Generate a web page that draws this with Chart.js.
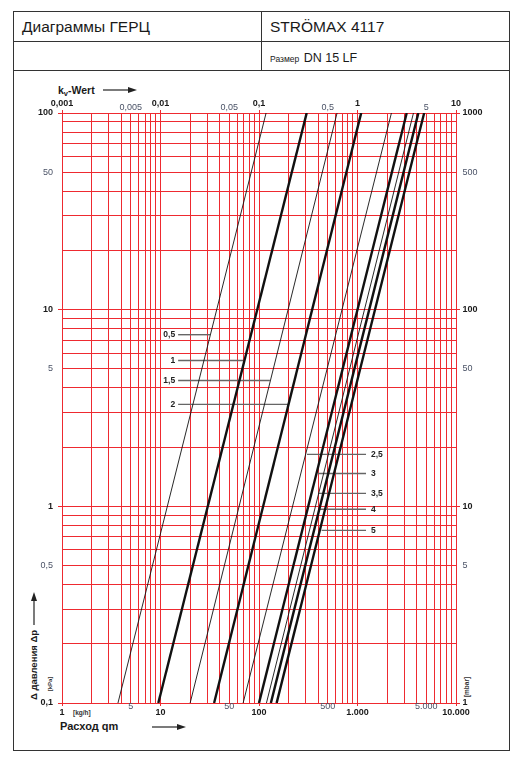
<!DOCTYPE html>
<html><head><meta charset="utf-8">
<script src="https://cdn.jsdelivr.net/npm/chart.js@4.4.1/dist/chart.umd.min.js"></script>
<style>
html,body{margin:0;padding:0;background:#fff;}
body{width:525px;height:761px;position:relative;overflow:hidden;font-family:'Liberation Sans',Arial,sans-serif;color:#1a1a1a;}
.abs{position:absolute;white-space:nowrap;}
.frame{position:absolute;left:13px;top:11px;width:497px;height:740px;border:1.5px solid #333;box-sizing:border-box;}
.hl{position:absolute;left:13px;width:497px;height:0;border-top:1.5px solid #333;}
.vl{position:absolute;top:11px;height:60px;width:0;border-left:1.5px solid #333;}
.rot{position:absolute;white-space:nowrap;transform:translate(-50%,-50%) rotate(-90deg);}
#c{position:absolute;left:0;top:0;}
</style></head>
<body>
<div class="frame"></div>
<div class="hl" style="top:41px"></div>
<div class="hl" style="top:70px"></div>
<div class="vl" style="left:261px"></div>
<div class="abs" style="left:22px;top:18px;font-size:15.5px;line-height:18px;">Диаграммы ГЕРЦ</div>
<div class="abs" style="left:270px;top:18px;font-size:15.5px;line-height:18px;">STRÖMAX 4117</div>
<div class="abs" style="left:270px;top:49px;line-height:16px;"><span style="font-size:8.5px;">Размер</span> <span style="font-size:12.5px;">DN 15 LF</span></div>
<div class="abs" style="left:58px;top:83px;font-size:10.5px;line-height:14px;font-weight:bold;">k<span style="font-size:7.5px;position:relative;top:2px;">v</span>-Wert</div>
<div class="abs" style="left:60px;top:719px;font-size:11px;line-height:14px;font-weight:bold;">Расход qm</div>
<div class="abs" style="left:73px;top:709px;font-size:6.5px;line-height:8px;font-weight:bold;color:#333;">[kg/h]</div>
<div class="rot" style="left:34px;top:665px;font-size:9.5px;line-height:12px;font-weight:bold;">Δ давления Δp</div>
<div class="rot" style="left:50px;top:684px;font-size:6px;line-height:8px;font-weight:bold;color:#333;">[kPa]</div>
<div class="rot" style="left:467px;top:687px;font-size:6.5px;line-height:8px;font-weight:bold;color:#333;">[mbar]</div>
<svg class="abs" style="left:0;top:0" width="525" height="761">
  <g stroke="#222" stroke-width="1.2" fill="#222">
    <line x1="103" y1="90" x2="130" y2="90"/><polygon points="137,90 128,87 128,93" stroke="none"/>
    <line x1="152" y1="727" x2="179" y2="727"/><polygon points="186,727 177,724 177,730" stroke="none"/>
    <line x1="34" y1="625" x2="34" y2="599"/><polygon points="34,592 31,601 37,601" stroke="none"/>
  </g>
</svg>
<canvas id="c" width="525" height="761"></canvas>
<script>
// ---- data ----
// presetting lines (Δp ∝ qm²): flow at Δp = 0.1 kPa and at Δp = 100 kPa
const presetLabels = ['0,5', '1', '1,5', '2', '2,5', '3', '3,5', '4', '5'];
const flowAtLowDp  = [3.7, 9.5, 20, 35, 69, 100, 119, 132, 151];      // kg/h at 0.1 kPa
const flowAtHighDp = [118, 305, 620, 1090, 2210, 3160, 3700, 4150, 4750]; // kg/h at 100 kPa
const heavyPresets = ['1', '2', '3', '4', '5'];

// label leader lines (Δp level and flow range)
const leaderDp       = [7.46, 5.51, 4.36, 3.30, 1.837, 1.47, 1.164, 0.966, 0.755];
const leaderFlowFrom = [15.1, 15.1, 15.1, 15.1, 307, 397, 397, 414, 432];
const leaderFlowTo   = [31.8, 68.8, 129, 200, 1220, 1220, 1220, 1220, 1220];
const labelOnLeft    = [true, true, true, true, false, false, false, false, false];

// axes
const flowMin = 1, flowMax = 10000;
const dpMin = 0.1, dpMax = 100;
const mbarMin = 1, mbarMax = 1000;
const kvMin = 0.001, kvMax = 10;
const gridMantissas = [1, 2, 3, 4, 5, 6, 7, 8, 9];

const flowTickValues = [1, 5, 10, 50, 100, 500, 1000, 5000, 10000];
const flowTickLabels = ['1', '5', '10', '50', '100', '500', '1.000', '5.000', '10.000'];
const dpTickValues = [0.1, 0.5, 1, 5, 10, 50, 100];
const dpTickLabels = ['0,1', '0,5', '1', '5', '10', '50', '100'];
const mbarTickValues = [1, 5, 10, 50, 100, 500, 1000];
const mbarTickLabels = ['1', '5', '10', '50', '100', '500', '1000'];
const kvTickValues = [0.001, 0.005, 0.01, 0.05, 0.1, 0.5, 1, 5, 10];
const kvTickLabels = ['0,001', '0,005', '0,01', '0,05', '0,1', '0,5', '1', '5', '10'];

// ---- helpers ----
function gridValues(min, max) {
  const out = [];
  for (let e = Math.round(Math.log10(min)); e < Math.round(Math.log10(max)); e++) {
    gridMantissas.forEach(m => out.push(+(m * Math.pow(10, e)).toPrecision(6)));
  }
  out.push(max);
  return out;
}
function same(a, b) { return Math.abs(Math.log10(a) - Math.log10(b)) < 1e-6; }
function labelFor(v, vals, labs) { const i = vals.findIndex(x => same(x, v)); return i < 0 ? '' : labs[i]; }
function isDecade(v) { const l = Math.log10(v); return Math.abs(l - Math.round(l)) < 1e-6; }

const RED = '#ee2a30';
const DARK = '#1a1a1a', MID = '#4a5266';
const FS = 9;

function tickFontBottom(ctx) {
  const v = ctx.tick && ctx.tick.value;
  return isDecade(v) ? {family: 'Liberation Sans', size: FS, weight: 'bold', lineHeight: 1.4}
                     : {family: 'Liberation Sans', size: FS, weight: 'normal', lineHeight: 0.15};
}
function tickFontTop(ctx) {
  const v = ctx.tick && ctx.tick.value;
  return isDecade(v) ? {family: 'Liberation Sans', size: FS, weight: 'bold', lineHeight: 1.55}
                     : {family: 'Liberation Sans', size: FS, weight: 'normal', lineHeight: 0.45};
}
function tickFontSide(ctx) {
  const v = ctx.tick && ctx.tick.value;
  return {family: 'Liberation Sans', size: FS, weight: isDecade(v) ? 'bold' : 'normal'};
}
function tickColor(ctx) { return isDecade(ctx.tick.value) ? DARK : MID; }
function markColor(ctx) { return ctx.tick && isDecade(ctx.tick.value) ? RED : 'rgba(0,0,0,0)'; }

// ---- datasets ----
const datasets = [];
presetLabels.forEach((p, i) => {
  const heavy = heavyPresets.includes(p);
  datasets.push({
    label: 'Voreinstellung ' + p,
    data: [{x: flowAtLowDp[i], y: dpMin}, {x: flowAtHighDp[i], y: dpMax}],
    showLine: true, pointRadius: 0, borderColor: '#111', borderWidth: heavy ? 2.4 : 0.9, order: 1
  });
  datasets.push({
    label: 'leader ' + p,
    data: [{x: leaderFlowFrom[i], y: leaderDp[i]}, {x: leaderFlowTo[i], y: leaderDp[i]}],
    showLine: true, pointRadius: 0, borderColor: '#666', borderWidth: 1.4, order: 2
  });
});

const presetLabelPlugin = {
  id: 'presetLabels',
  afterDatasetsDraw(chart) {
    const c = chart.ctx, xs = chart.scales.x, ys = chart.scales.y;
    c.save();
    c.font = 'bold 8.5px "Liberation Sans"';
    c.fillStyle = '#222';
    c.textBaseline = 'middle';
    presetLabels.forEach((p, i) => {
      const py = ys.getPixelForValue(leaderDp[i]);
      if (labelOnLeft[i]) {
        c.textAlign = 'right';
        c.fillText(p, xs.getPixelForValue(leaderFlowFrom[i]) - 3, py);
      } else {
        c.textAlign = 'left';
        c.fillText(p, xs.getPixelForValue(leaderFlowTo[i]) + 5, py);
      }
    });
    c.restore();
  }
};

new Chart(document.getElementById('c'), {
  type: 'scatter',
  data: {datasets},
  options: {
    responsive: false, animation: false, devicePixelRatio: 1,
    layout: {padding: 0},
    plugins: {legend: {display: false}, tooltip: {enabled: false}},
    scales: {
      x: {
        type: 'logarithmic', position: 'bottom', min: flowMin, max: flowMax,
        afterBuildTicks: s => { s.ticks = gridValues(flowMin, flowMax).map(v => ({value: v})); },
        afterFit: s => { s.height = 58; },
        grid: {color: RED, lineWidth: 1, drawTicks: true, tickLength: 3, tickColor: markColor},
        border: {color: RED, width: 1},
        ticks: {autoSkip: false, maxRotation: 0, minRotation: 0, padding: 0, font: tickFontBottom, color: tickColor,
                callback: v => labelFor(v, flowTickValues, flowTickLabels)}
      },
      kv: {
        type: 'logarithmic', position: 'top', min: kvMin, max: kvMax,
        afterBuildTicks: s => { s.ticks = kvTickValues.map(v => ({value: v})); },
        afterFit: s => { s.height = 113; },
        grid: {drawOnChartArea: false, drawTicks: true, tickLength: 3, tickColor: markColor},
        border: {display: false},
        ticks: {autoSkip: false, maxRotation: 0, minRotation: 0, padding: 0, font: tickFontTop, color: tickColor,
                callback: v => labelFor(v, kvTickValues, kvTickLabels)}
      },
      y: {
        type: 'logarithmic', position: 'left', min: dpMin, max: dpMax,
        afterBuildTicks: s => { s.ticks = gridValues(dpMin, dpMax).map(v => ({value: v})); },
        afterFit: s => { s.width = 62; },
        grid: {color: RED, lineWidth: 1, drawTicks: true, tickLength: 4, tickColor: markColor},
        border: {color: RED, width: 1},
        ticks: {autoSkip: false, padding: 5, font: tickFontSide, color: tickColor,
                callback: v => labelFor(v, dpTickValues, dpTickLabels)}
      },
      mbar: {
        type: 'logarithmic', position: 'right', min: mbarMin, max: mbarMax,
        afterBuildTicks: s => { s.ticks = mbarTickValues.map(v => ({value: v})); },
        afterFit: s => { s.width = 69; },
        grid: {drawOnChartArea: false, drawTicks: true, tickLength: 4, tickColor: markColor},
        border: {display: false},
        ticks: {autoSkip: false, padding: 2.5, font: tickFontSide, color: tickColor,
                callback: v => labelFor(v, mbarTickValues, mbarTickLabels)}
      }
    }
  },
  plugins: [presetLabelPlugin]
});
</script>
</body></html>
